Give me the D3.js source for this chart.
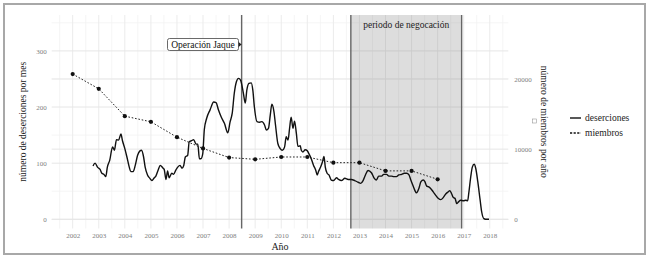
<!DOCTYPE html>
<html>
<head>
<meta charset="utf-8">
<script src="https://cdn.jsdelivr.net/npm/d3@7"></script>
<style>
  body { margin: 0; background: #fff; }
  svg { display: block; font-family: "Liberation Serif", "DejaVu Serif", serif; }
</style>
</head>
<body>
<div id="chart"></div>
<script>
// deserciones por mes (fecha decimal, valor)
const desFecha = [
  2002.78, 2002.86, 2002.95, 2003.05, 2003.12, 2003.20, 2003.27, 2003.33, 2003.42, 2003.53,
  2003.60, 2003.68, 2003.76, 2003.85, 2003.91, 2004.00, 2004.08, 2004.17, 2004.23, 2004.32,
  2004.40, 2004.49, 2004.58, 2004.64, 2004.72, 2004.78, 2004.87, 2004.96, 2005.04, 2005.13,
  2005.19, 2005.28, 2005.36, 2005.45, 2005.51, 2005.58, 2005.64, 2005.70, 2005.80, 2005.87,
  2005.96, 2006.03, 2006.12, 2006.19, 2006.26, 2006.32, 2006.41, 2006.47, 2006.56, 2006.64,
  2006.73, 2006.80, 2006.86, 2006.92, 2006.99, 2007.05, 2007.14, 2007.27, 2007.41, 2007.50,
  2007.59, 2007.69, 2007.82, 2007.95, 2008.04, 2008.12, 2008.20, 2008.28, 2008.36, 2008.44,
  2008.55, 2008.62, 2008.68, 2008.76, 2008.85, 2008.91, 2008.97, 2009.07, 2009.17, 2009.26,
  2009.36, 2009.43, 2009.51, 2009.58, 2009.64, 2009.72, 2009.78, 2009.87, 2009.96, 2010.04,
  2010.13, 2010.19, 2010.26, 2010.32, 2010.38, 2010.45, 2010.51, 2010.58, 2010.64, 2010.73,
  2010.77, 2010.83, 2010.92, 2011.00, 2011.06, 2011.15, 2011.24, 2011.32, 2011.38, 2011.43,
  2011.51, 2011.58, 2011.64, 2011.69, 2011.76, 2011.83, 2011.92, 2012.01, 2012.12, 2012.20,
  2012.31, 2012.44, 2012.57, 2012.69, 2012.82, 2012.95, 2013.05, 2013.14, 2013.23, 2013.33,
  2013.46, 2013.57, 2013.65, 2013.74, 2013.85, 2013.93, 2014.04, 2014.13, 2014.23, 2014.32,
  2014.42, 2014.51, 2014.62, 2014.72, 2014.81, 2014.90, 2014.97, 2015.07, 2015.13, 2015.19,
  2015.28, 2015.36, 2015.45, 2015.51, 2015.58, 2015.64, 2015.73, 2015.83, 2015.92, 2016.03,
  2016.12, 2016.22, 2016.31, 2016.41, 2016.47, 2016.54, 2016.60, 2016.67, 2016.73, 2016.80,
  2016.88, 2016.99, 2017.08, 2017.15, 2017.20, 2017.27, 2017.33, 2017.40, 2017.46, 2017.54,
  2017.63, 2017.69, 2017.78, 2017.88, 2017.97
];
const desValor = [
  95, 100, 93, 89, 82, 80, 76, 93, 105, 129,
  123, 142, 141, 152, 140, 126, 111, 93, 85, 85,
  96, 114, 122, 123, 111, 93, 79, 73, 69, 74,
  77, 88, 96, 92, 89, 71, 86, 74, 82, 80,
  88, 93, 96, 91, 96, 111, 114, 138, 140, 142,
  134, 134, 108, 108, 117, 160, 180, 195, 209, 208,
  195, 183, 171, 154, 174, 189, 225, 245, 251, 248,
  224, 207, 230, 242, 243, 230, 200, 174, 173, 174,
  168, 159, 162, 186, 205, 192, 168, 135, 126, 123,
  129, 147, 141, 162, 182, 162, 175, 153, 130, 131,
  123, 120, 124, 122, 117, 108, 96, 88, 79, 85,
  93, 102, 112, 93, 82, 79, 70, 69, 74, 71,
  69, 73, 71, 71, 69, 66, 64, 69, 79, 87,
  83, 73, 70, 77, 77, 80, 80, 77, 77, 76,
  76, 79, 80, 82, 82, 79, 70, 58, 51, 47,
  55, 67, 70, 67, 59, 58, 55, 49, 43, 37,
  35, 39, 45, 49, 51, 45, 39, 37, 28, 31,
  34, 33, 34, 33, 49, 76, 93, 98, 91, 67,
  34, 13, 1, 0, 0
];

// miembros por año
const miembrosAnio = [2002, 2003, 2004, 2005, 2006, 2007, 2008, 2009, 2010, 2011, 2012, 2013, 2014, 2015, 2016];
const miembrosValor = [20700, 18600, 14700, 13900, 11700, 10100, 8800, 8550, 8880, 8880, 8070, 8070, 6900, 6900, 5700];

const xTicks = d3.range(2002, 2019);
const yTicksIzq = [0, 100, 200, 300];
const yTicksDer = [0, 10000, 20000];
const factor = 80; // miembros / factor = escala izquierda

const operacionJaque = 2008.48;
const negociacion = [2012.67, 2016.92];

const width = 650, height = 259;
const panel = { left: 51.7, right: 508.3, top: 15, bottom: 228.5 };

const x = d3.scaleLinear().domain([2001.195, 2018.71]).range([panel.left, panel.right]);
const y = d3.scaleLinear().domain([-16.4, 364]).range([panel.bottom, panel.top]);
const yDer = d3.scaleLinear().domain([-16.4 * factor, 364 * factor]).range([panel.bottom, panel.top]);

const svg = d3.select("#chart").append("svg")
  .attr("width", width)
  .attr("height", height);

svg.append("rect")
  .attr("x", 4).attr("y", 4)
  .attr("width", 641).attr("height", 250)
  .attr("fill", "#fff")
  .attr("stroke", "#a8a8a8")
  .attr("stroke-width", 2);

// grid
const grid = svg.append("g");
const minorX = d3.range(2001.5, 2019, 1);
grid.selectAll(".vminor").data(minorX).enter().append("line")
  .attr("x1", d => x(d)).attr("x2", d => x(d))
  .attr("y1", panel.top).attr("y2", panel.bottom)
  .attr("stroke", "#f3f3f3").attr("stroke-width", 0.8);
grid.selectAll(".hminor").data([50, 150, 250, 350]).enter().append("line")
  .attr("x1", panel.left).attr("x2", panel.right)
  .attr("y1", d => y(d)).attr("y2", d => y(d))
  .attr("stroke", "#f3f3f3").attr("stroke-width", 0.8);
grid.selectAll(".vmajor").data(xTicks).enter().append("line")
  .attr("x1", d => x(d)).attr("x2", d => x(d))
  .attr("y1", panel.top).attr("y2", panel.bottom)
  .attr("stroke", "#ebebeb").attr("stroke-width", 1);
grid.selectAll(".hmajor").data(yTicksIzq).enter().append("line")
  .attr("x1", panel.left).attr("x2", panel.right)
  .attr("y1", d => y(d)).attr("y2", d => y(d))
  .attr("stroke", "#e6e6e6").attr("stroke-width", 1);
grid.selectAll(".hder").data(yTicksDer).enter().append("line")
  .attr("x1", panel.left).attr("x2", panel.right)
  .attr("y1", d => yDer(d)).attr("y2", d => yDer(d))
  .attr("stroke", "#e6e6e6").attr("stroke-width", 1);

// periodo de negociacion
svg.append("rect")
  .attr("x", x(negociacion[0]))
  .attr("y", panel.top)
  .attr("width", x(negociacion[1]) - x(negociacion[0]))
  .attr("height", panel.bottom - panel.top)
  .attr("fill", "#808080")
  .attr("fill-opacity", 0.27);

svg.selectAll(".vline").data([operacionJaque, ...negociacion]).enter().append("line")
  .attr("x1", d => x(d)).attr("x2", d => x(d))
  .attr("y1", panel.top).attr("y2", panel.bottom)
  .attr("stroke", "#666").attr("stroke-width", 1.4);

svg.append("text")
  .attr("x", (x(negociacion[0]) + x(negociacion[1])) / 2)
  .attr("y", 28)
  .attr("text-anchor", "middle")
  .attr("font-size", 9.5)
  .attr("fill", "#222")
  .text("periodo de negocación");

// miembros
const miembros = miembrosAnio.map((a, i) => ({ a, v: miembrosValor[i] }));
svg.append("path")
  .datum(miembros)
  .attr("fill", "none")
  .attr("stroke", "#222")
  .attr("stroke-width", 1)
  .attr("stroke-dasharray", "1.6,1.8")
  .attr("d", d3.line().x(d => x(d.a)).y(d => yDer(d.v)));
svg.selectAll(".pt").data(miembros).enter().append("circle")
  .attr("cx", d => x(d.a)).attr("cy", d => yDer(d.v))
  .attr("r", 2.1).attr("fill", "#111");

// deserciones
const deserciones = desFecha.map((f, i) => ({ f, v: desValor[i] }));
svg.append("path")
  .datum(deserciones)
  .attr("fill", "none")
  .attr("stroke", "#111")
  .attr("stroke-width", 1.4)
  .attr("stroke-linejoin", "round")
  .attr("d", d3.line().x(d => x(d.f)).y(d => y(d.v)).curve(d3.curveMonotoneX));

// etiqueta Operacion Jaque
const lab = svg.append("g");
lab.append("rect")
  .attr("x", 167.5).attr("y", 38.5)
  .attr("width", 71).attr("height", 12)
  .attr("rx", 2)
  .attr("fill", "#fff").attr("stroke", "#444").attr("stroke-width", 0.8);
lab.append("text")
  .attr("x", 203).attr("y", 47.8)
  .attr("text-anchor", "middle")
  .attr("font-size", 9.5)
  .attr("fill", "#111")
  .text("Operación Jaque");
lab.append("path")
  .attr("d", `M${x(operacionJaque) - 3},42 L${x(operacionJaque)},44.5 L${x(operacionJaque) - 3},47 Z`)
  .attr("fill", "#222");

// ejes
const tickColor = "#808080";
const xAxis = svg.append("g")
  .attr("transform", `translate(0, ${panel.bottom + 2})`)
  .call(d3.axisBottom(x).tickValues(xTicks).tickFormat(d3.format("d")).tickSize(0));
const yAxis = svg.append("g")
  .attr("transform", `translate(${panel.left - 2}, 0)`)
  .call(d3.axisLeft(y).tickValues(yTicksIzq).tickSize(0));
const yAxisDer = svg.append("g")
  .attr("transform", `translate(${panel.right + 3}, 0)`)
  .call(d3.axisRight(yDer).tickValues(yTicksDer).tickFormat(d3.format("d")).tickSize(0));
[xAxis, yAxis, yAxisDer].forEach(g => {
  g.select(".domain").remove();
  g.attr("font-family", "Liberation Serif, serif")
    .attr("font-size", 7)
    .attr("fill", null);
  g.selectAll("text")
    .style("fill", tickColor);
});

svg.append("text")
  .attr("x", (panel.left + panel.right) / 2)
  .attr("y", 250)
  .attr("text-anchor", "middle")
  .attr("font-size", 10)
  .attr("fill", "#222")
  .text("Año");

svg.append("text")
  .attr("transform", `translate(26, ${(panel.top + panel.bottom) / 2}) rotate(-90)`)
  .attr("text-anchor", "middle")
  .attr("font-size", 9.5)
  .attr("fill", "#222")
  .text("número de deserciones por mes");

svg.append("text")
  .attr("transform", `translate(541, ${(panel.top + panel.bottom) / 2}) rotate(90)`)
  .attr("text-anchor", "middle")
  .attr("font-size", 9.5)
  .attr("fill", "#222")
  .text("número de miembros por año");

// leyenda
svg.append("rect")
  .attr("x", 532.5).attr("y", 119)
  .attr("width", 4).attr("height", 4)
  .attr("fill", "#fff").attr("stroke", "#999").attr("stroke-width", 0.6);

const leyenda = svg.append("g");
const items = [
  { nombre: "deserciones", dash: null, yy: 118 },
  { nombre: "miembros", dash: "2.2,1.4", yy: 133 }
];
items.forEach(it => {
  leyenda.append("line")
    .attr("x1", 570).attr("x2", 581)
    .attr("y1", it.yy).attr("y2", it.yy)
    .attr("stroke", "#111")
    .attr("stroke-width", 1.4)
    .attr("stroke-dasharray", it.dash);
  leyenda.append("text")
    .attr("x", 585).attr("y", it.yy + 3.3)
    .attr("font-size", 9.5)
    .attr("fill", "#222")
    .text(it.nombre);
});
</script>
</body>
</html>
